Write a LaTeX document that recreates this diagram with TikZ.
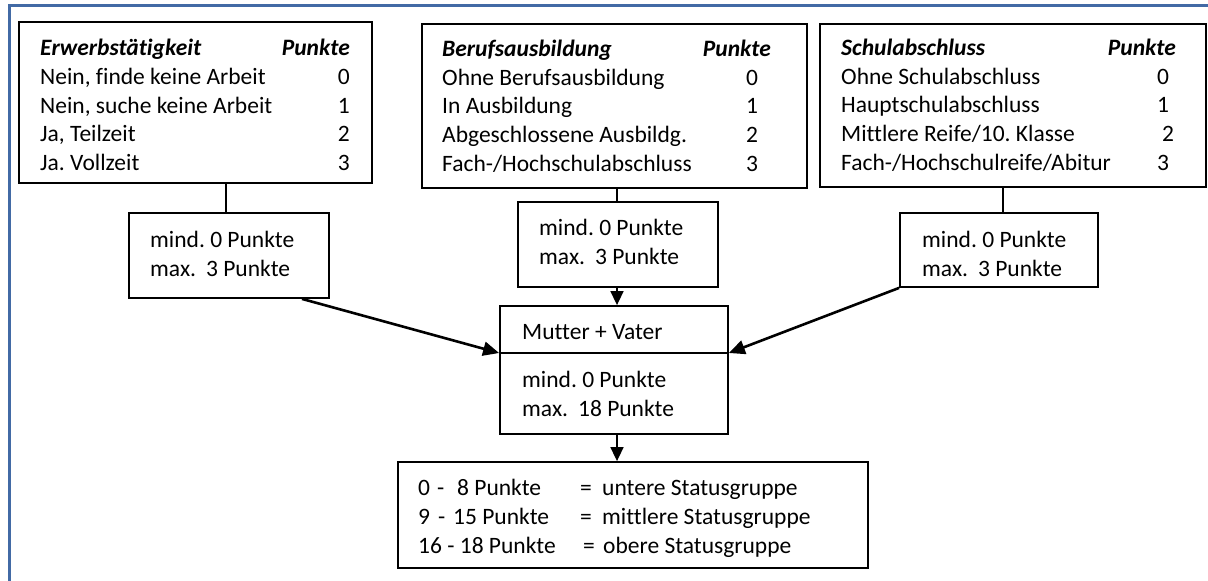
\documentclass[tikz,border=0pt]{standalone}
\usepackage{fontspec}
\setmainfont{Carlito}[Ligatures=NoCommon]
\usetikzlibrary{arrows.meta}
\definecolor{frameblue}{RGB}{66,106,165}
\frenchspacing
\begin{document}
\begin{tikzpicture}[x=1pt,y=-1pt,
  box/.style={draw=black, line width=1.8pt, fill=white, inner sep=0pt, rectangle},
  txt/.style={inner sep=0pt, font=\fontsize{23.5}{28}\selectfont},
  tl/.style={txt, anchor=base west},
  tr/.style={txt, anchor=base east},
  tc/.style={txt, anchor=base},
  hdl/.style={tl, font=\fontsize{23.5}{28}\selectfont\bfseries\itshape},
  hdr/.style={tr, font=\fontsize{23.5}{28}\selectfont\bfseries\itshape},
  conn/.style={line width=1.5pt},
  arr/.style={line width=2.6pt, -{Triangle[length=16pt,width=14pt]}},
  varr/.style={line width=1.6pt, -{Triangle[length=14pt,width=13pt]}},
]
\useasboundingbox (0,0) rectangle (1208,581);
\fill[white] (0,0) rectangle (1208,581);
\draw[frameblue, line width=3pt] (9,590) -- (9,5) -- (1215,5);

% top boxes
\node[box, minimum width=353pt, minimum height=161pt] (erw) at (195.5,102.5) {};
\node[box, minimum width=385pt, minimum height=164pt] (ber) at (614.5,106) {};
\node[box, minimum width=386pt, minimum height=163pt] (sch) at (1013,105.5) {};

% small boxes
\node[box, minimum width=200pt, minimum height=85pt] (sb1) at (229,255.5) {};
\node[box, minimum width=200pt, minimum height=85pt] (sb2) at (618,244.5) {};
\node[box, minimum width=198pt, minimum height=74pt] (sb3) at (999,250) {};

% Mutter + Vater
\node[box, minimum width=228pt, minimum height=128pt] (mv) at (614,370) {};
\coordinate (mvL) at (mv.west |- 0,353);
\coordinate (mvR) at (mv.east |- 0,353);
\draw[line width=1.8pt] (mvL) -- (mvR);

% result box
\node[box, minimum width=470pt, minimum height=106pt] (res) at (633,515) {};

% connectors
\draw[conn] ([xshift=-3pt]sb1.north) -- ([xshift=-3pt]sb1.north |- erw.south);
\draw[conn] ([xshift=-1pt]sb2.north) -- ([xshift=-1pt]sb2.north |- ber.south);
\draw[conn] ([xshift=4pt]sb3.north) -- ([xshift=4pt]sb3.north |- sch.south);
\draw[arr] ([xshift=73pt]sb1.south) -- (mvL);
\draw[arr] (sb3.south west) -- (mvR);
\draw[varr] ([xshift=-1pt]sb2.south) -- ([xshift=-1pt]sb2.south |- mv.north);
\draw[varr] ([xshift=-1pt]sb2.south |- mv.south) -- ([xshift=-1pt]sb2.south |- res.north);

% box 1 text
\node[hdl] (e0) at (40,55) {Erwerbstätigkeit};
\node[hdr] (e0p) at (350,55) {Punkte};
\node[tl] (e1) at (40,84.5) {Nein, finde keine Arbeit};
\node[tl] (e2) at (40,113) {Nein, suche keine Arbeit};
\node[tl] (e3) at (40,141.5) {Ja, Teilzeit};
\node[tl] (e4) at (40,170.5) {Ja. Vollzeit};
\node[tr] (e1p) at (350,84.5) {0};
\node[tr] (e2p) at (350,113) {1};
\node[tr] (e3p) at (350,141.5) {2};
\node[tr] (e4p) at (350,170.5) {3};

% box 2 text
\node[hdl] (b0) at (442,56) {Berufsausbildung};
\node[hdr] (b0p) at (771,56) {Punkte};
\node[tl] (b1) at (442,85) {Ohne Berufsausbildung};
\node[tl] (b2) at (442,113.5) {In Ausbildung};
\node[tl] (b3) at (442,142) {Abgeschlossene Ausbildg.};
\node[tl] (b4) at (442,171) {Fach-/Hochschulabschluss};
\node[tc] (b1p) at (752,85) {0};
\node[tc] (b2p) at (752,113.5) {1};
\node[tc] (b3p) at (752,142) {2};
\node[tc] (b4p) at (752,171) {3};

% box 3 text
\node[hdl] (s0) at (841,55) {Schulabschluss};
\node[hdr] (s0p) at (1176,55) {Punkte};
\node[tl] (s1) at (841,84) {Ohne Schulabschluss};
\node[tl] (s2) at (841,112.5) {Hauptschulabschluss};
\node[tl] (s3) at (841,141) {Mittlere Reife/10. Klasse};
\node[tl] (s4) at (841,170) {Fach-/Hochschulreife/Abitur};
\node[tc] (s1p) at (1163,84) {0};
\node[tc] (s2p) at (1163,112.5) {1};
\node[tc] (s3p) at (1168,141) {2};
\node[tc] (s4p) at (1163,170) {3};

% small box texts
\node[tl] (m1a) at (150,247) {mind. 0 Punkte};
\node[tl] (m1b) at (150,276.5) {max.\hspace{10pt}3 Punkte};
\node[tl] (m2a) at (539,235) {mind. 0 Punkte};
\node[tl] (m2b) at (539,264) {max.\hspace{10pt}3 Punkte};
\node[tl] (m3a) at (922,247) {mind. 0 Punkte};
\node[tl] (m3b) at (922,276.5) {max.\hspace{10pt}3 Punkte};

% Mutter + Vater texts
\node[tl] (mvt) at (522,339) {Mutter + Vater};
\node[tl] (mva) at (522,387) {mind. 0 Punkte};
\node[tl] (mvb) at (522,416) {max.\hspace{10pt}18 Punkte};

% result texts
\node[tl] (r1) at (418,495) {\makebox[19pt][l]{0}\makebox[20pt][l]{-}8 Punkte};
\node[tl] (r2) at (418,524) {\makebox[20pt][l]{9}\makebox[15pt][l]{-}15 Punkte};
\node[tl] (r3) at (418,553) {16 - 18 Punkte};
\node[tl] (r1s) at (580,495) {\makebox[22pt][l]{=}untere Statusgruppe};
\node[tl] (r2s) at (580,524) {\makebox[22pt][l]{=}mittlere Statusgruppe};
\node[tl] (r3s) at (583,553) {\makebox[20pt][l]{=}obere Statusgruppe};
\end{tikzpicture}
\end{document}
